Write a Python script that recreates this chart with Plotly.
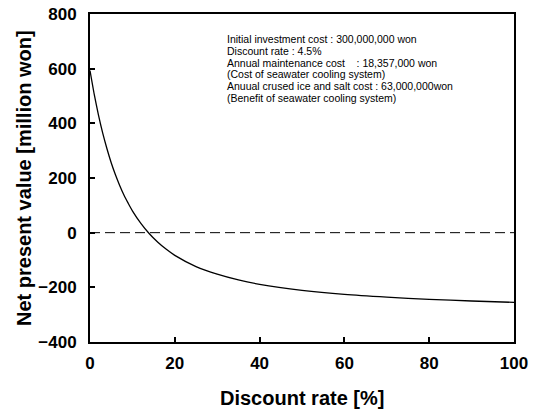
import plotly.graph_objects as go

discount_rate = [0, 1, 2, 3, 4, 5, 6, 7, 8, 9, 10, 12, 14, 16, 18, 20, 25, 30, 35, 40, 50, 60, 70, 80, 90, 100]
npv = [593, 506, 430, 364, 307, 256, 212, 173, 138, 108, 80, 34, -4, -35, -61, -83, -124, -152, -173, -189,
       -211, -226, -236, -244, -250, -255]
zero_x = [0, 100]
zero_y = [0, 0]

x_ticks = [0, 20, 40, 60, 80, 100]
y_ticks = [-400, -200, 0, 200, 400, 600, 800]

note_lines = [
    "Initial investment cost : 300,000,000 won",
    "Discount rate : 4.5%",
    "Annual maintenance cost    : 18,357,000 won",
    "(Cost of seawater cooling system)",
    "Anuual crused ice and salt cost : 63,000,000won",
    "(Benefit of seawater cooling system)",
]

FONT = "Liberation Sans, Arial, sans-serif"

fig = go.Figure()
fig.add_trace(go.Scatter(x=zero_x, y=zero_y, mode="lines",
                         line=dict(color="black", width=1, dash="10px,5px"),
                         showlegend=False, hoverinfo="skip"))
fig.add_trace(go.Scatter(x=discount_rate, y=npv, mode="lines",
                         line=dict(color="black", width=1.3, shape="spline", smoothing=0.6),
                         showlegend=False))

for i, line in enumerate(note_lines):
    fig.add_annotation(x=0, y=1, xref="paper", yref="paper", xanchor="left", yanchor="middle",
                       xshift=135, yshift=-25 - 11.8 * i, align="left", showarrow=False,
                       text=line, font=dict(family=FONT, size=10.5, color="black"))

fig.add_annotation(x=0.5, y=0, xref="paper", yref="paper", xanchor="center", yanchor="middle",
                   yshift=-56, showarrow=False, text="<b>Discount rate [%]</b>",
                   font=dict(family=FONT, size=20, color="black"))
fig.add_annotation(x=0, y=0.5, xref="paper", yref="paper", xanchor="center", yanchor="middle",
                   xshift=-66, yshift=0, textangle=-90, showarrow=False,
                   text="<b>Net present value [million won]</b>",
                   font=dict(family=FONT, size=20, color="black"))

fig.update_xaxes(range=[0, 100], tickvals=x_ticks, ticks="inside", ticklen=5, tickwidth=1.5,
                 tickcolor="black", showline=True, linecolor="black", linewidth=2, mirror=True,
                 showgrid=False, zeroline=False, automargin=False, ticklabelstandoff=5,
                 tickfont=dict(family=FONT, size=17, color="black", weight="bold"))
fig.update_yaxes(range=[-400, 800], tickvals=y_ticks, ticks="inside", ticklen=5, tickwidth=1.5,
                 tickcolor="black", showline=True, linecolor="black", linewidth=2, mirror=True,
                 showgrid=False, zeroline=False, automargin=False, ticklabelstandoff=8,
                 tickfont=dict(family=FONT, size=17, color="black", weight="bold"))

fig.update_layout(width=537, height=412, margin=dict(l=90, r=23, t=14, b=70),
                  paper_bgcolor="white", plot_bgcolor="white")

fig.write_html("out.html", config={"displayModeBar": False},
               post_script="document.body.style.margin='0px';")
